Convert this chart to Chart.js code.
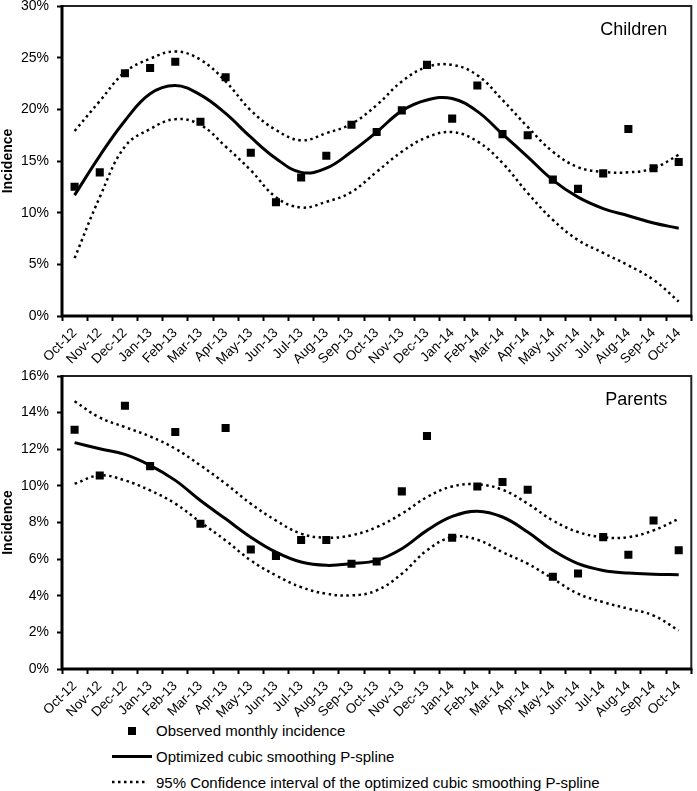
<!DOCTYPE html>
<html><head><meta charset="utf-8">
<script src="https://cdn.jsdelivr.net/npm/chart.js@4/dist/chart.umd.min.js"></script>
<style>
html,body{margin:0;padding:0;background:#fff;}
body{width:697px;height:791px;position:relative;overflow:hidden;font-family:"Liberation Sans",Arial,sans-serif;}
.wrap{position:absolute;left:0;width:697px;}
#w1{top:0;height:372px;}
#w2{top:370px;height:350px;}
.lt{position:absolute;left:156px;font-size:15px;line-height:18px;color:#000;white-space:nowrap;}
.lm{position:absolute;}
</style>
</head><body>
<div class="wrap" id="w1"><canvas id="c1"></canvas></div>
<div class="wrap" id="w2"><canvas id="c2"></canvas></div>
<div class="lm" style="left:128px;top:727px;width:8px;height:8px;background:#000;"></div>
<div class="lt" style="top:722px;">Observed monthly incidence</div>
<div class="lm" style="left:112px;top:755px;width:40px;height:3px;background:#000;"></div>
<div class="lt" style="top:748px;">Optimized cubic smoothing P-spline</div>
<svg class="lm" style="left:112px;top:780px;" width="36" height="4"><line x1="0" y1="2" x2="36" y2="2" stroke="#000" stroke-width="2.5" stroke-dasharray="2.5 3.5"/></svg>
<div class="lt" style="top:774px;">95% Confidence interval of the optimized cubic smoothing P-spline</div>
<script>
const categories = ['Oct-12','Nov-12','Dec-12','Jan-13','Feb-13','Mar-13','Apr-13','May-13','Jun-13','Jul-13','Aug-13','Sep-13','Oct-13','Nov-13','Dec-13','Jan-14','Feb-14','Mar-14','Apr-14','May-14','Jun-14','Jul-14','Aug-14','Sep-14','Oct-14'];

const childrenObserved = [12.5,13.9,23.5,24.0,24.6,18.8,23.1,15.8,11.0,13.4,15.5,18.5,17.8,19.9,24.3,19.1,22.3,17.6,17.5,13.2,12.3,13.8,18.1,14.3,14.9];
const childrenSpline   = [11.7,15.5,18.9,21.5,22.3,21.4,19.6,17.3,15.25,13.9,14.3,15.9,17.8,19.85,20.9,21.05,19.8,17.6,15.4,13.15,11.5,10.4,9.7,9.0,8.5];
const childrenUpper    = [17.9,20.8,23.6,24.9,25.6,24.8,22.7,19.9,18.0,17.0,17.7,18.6,20.4,22.7,24.1,24.3,23.3,20.9,18.3,15.9,14.4,13.95,13.9,14.3,15.6];
const childrenLower    = [5.6,11.5,16.4,18.1,19.05,18.5,16.4,14.1,11.5,10.5,11.05,12.0,13.95,15.9,17.3,17.8,16.9,14.8,11.9,9.3,7.35,6.1,4.9,3.5,1.4];

const parentsObserved = [13.07,10.57,14.38,11.08,12.94,7.93,13.16,6.53,6.17,7.04,7.04,5.75,5.87,9.7,12.72,7.17,9.97,10.21,9.79,5.04,5.22,7.2,6.24,8.11,6.48];
const parentsSpline   = [12.36,12.03,11.72,11.12,10.3,9.2,8.2,7.2,6.38,5.84,5.66,5.75,5.93,6.57,7.57,8.33,8.62,8.3,7.48,6.48,5.75,5.38,5.24,5.18,5.15];
const parentsUpper    = [14.62,13.73,13.21,12.7,12.03,11.12,10.12,9.03,8.11,7.39,7.17,7.3,7.75,8.48,9.39,9.97,10.08,9.79,9.03,8.11,7.48,7.2,7.2,7.57,8.2];
const parentsLower    = [10.12,10.57,10.3,9.75,9.03,8.02,7.02,5.93,5.11,4.47,4.11,4.02,4.29,5.2,6.48,7.2,7.06,6.38,5.75,4.93,4.11,3.65,3.29,2.92,2.1];

const childrenTicks = {max: 30, step: 5};
const parentsTicks  = {max: 16, step: 2};

const FONT = '"Liberation Sans", Arial, sans-serif';

const framePlugin = {
  id: 'frame',
  afterDatasetsDraw(chart, args, opts) {
    const a = chart.chartArea, ctx = chart.ctx;
    ctx.save();
    ctx.strokeStyle = '#222';
    ctx.lineWidth = 2;
    ctx.strokeRect(a.left, a.top, a.right - a.left, a.bottom - a.top);
    ctx.strokeStyle = '#000';
    ctx.lineWidth = 3;
    ctx.beginPath();
    ctx.moveTo(a.left, a.top - 1);
    ctx.lineTo(a.left, a.bottom);
    ctx.lineTo(a.right + 1, a.bottom);
    ctx.stroke();
    ctx.fillStyle = '#000';
    ctx.font = '18px ' + FONT;
    ctx.textAlign = 'right';
    ctx.textBaseline = 'middle';
    ctx.fillText(opts.label, a.right - 24, a.top + 24);
    ctx.restore();
  }
};

function makeChart(id, label, obs, spl, up, lo, tk, xHeight) {
  const dotted = (d) => ({data: d, borderColor: '#000', borderWidth: 2.5, borderDash: [2.5, 3.5],
    pointRadius: 0, tension: 0.4, fill: false});
  return new Chart(document.getElementById(id), {
    type: 'line',
    data: {
      labels: categories,
      datasets: [
        {data: obs, showLine: false, pointStyle: 'rect', pointRadius: 5.7, pointBackgroundColor: '#000', pointBorderWidth: 0, borderColor: '#000'},
        {data: spl, borderColor: '#000', borderWidth: 3, pointRadius: 0, tension: 0.4, fill: false},
        dotted(up),
        dotted(lo)
      ]
    },
    options: {
      responsive: true, maintainAspectRatio: false, animation: false, events: [],
      layout: {padding: {top: 6, right: 3, left: 0, bottom: 0}},
      plugins: {legend: {display: false}, tooltip: {enabled: false}, frame: {label: label}},
      scales: {
        x: {
          offset: true,
          grid: {offset: true, drawOnChartArea: false, drawTicks: true, tickLength: 5, tickWidth: 2, tickColor: '#000'},
          border: {display: false},
          ticks: {autoSkip: false, maxRotation: 45, minRotation: 45, color: '#000', padding: 4, font: {family: FONT, size: 13.5}},
          afterFit(s) { s.height = xHeight; s.paddingLeft = 0; s.paddingRight = 0; }
        },
        y: {
          min: 0, max: tk.max,
          grid: {drawOnChartArea: false, drawTicks: true, tickLength: 5, tickWidth: 2, tickColor: '#000'},
          border: {display: false},
          ticks: {stepSize: tk.step, color: '#000', padding: 8, font: {family: FONT, size: 14}, callback: v => v + '%'},
          title: {display: true, text: 'Incidence', color: '#000', padding: 0, font: {family: FONT, size: 14, weight: 'bold'}},
          afterFit(s) { s.width = 62; s.paddingTop = 0; s.paddingBottom = 0; }
        }
      }
    },
    plugins: [framePlugin]
  });
}

makeChart('c1', 'Children', childrenObserved, childrenSpline, childrenUpper, childrenLower, childrenTicks, 56);
makeChart('c2', 'Parents', parentsObserved, parentsSpline, parentsUpper, parentsLower, parentsTicks, 51);
</script>
</body></html>
